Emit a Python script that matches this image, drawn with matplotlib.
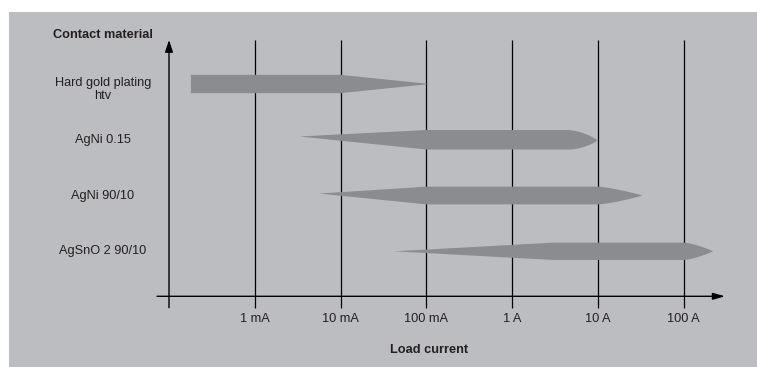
import numpy as np
import matplotlib
matplotlib.use("Agg")
import matplotlib.pyplot as plt
from matplotlib import font_manager
from matplotlib.patches import Rectangle, Polygon
from matplotlib.transforms import blended_transform_factory

# ---------------- data ----------------
materials = ["Hard gold plating\nhtv", "AgNi 0.15", "AgNi 90/10", "AgSnO 2 90/10"]
range_min = [1.8e-4, 3.3e-3, 5.6e-3, 0.042]    # A, left end of usable range
full_from = [1.8e-4, 0.1, 0.1, 3.0]            # A, full recommended range begins
full_to = [0.01, 4.3, 10.0, 100.0]             # A, full recommended range ends
range_max = [0.11, 10.0, 33.0, 220.0]          # A, right end of usable range
tick_values = [1e-3, 1e-2, 1e-1, 1.0, 10.0, 100.0]
tick_labels = ["1 mA", "10 mA", "100 mA", "1 A", "10 A", "100 A"]
axis_origin = 1e-4
x_title = "Load current"
y_title = "Contact material"

# ---------------- style ----------------
W, H = 757, 367
BG = "#bcbdc1"
BAR = "#8b8c90"
TXT = "#231f20"
names = {f.name for f in font_manager.fontManager.ttflist}
if "Liberation Sans Narrow" in names:
    FAM, FS = ["Liberation Sans Narrow", "DejaVu Sans"], 10.5
elif "Liberation Sans" in names:
    FAM, FS = ["Liberation Sans", "DejaVu Sans"], 9.2
else:
    FAM, FS = ["DejaVu Sans"], 8.5
plt.rcParams["font.family"] = FAM

ROW_PX = 55.77                 # pixels per category row
left_tip_dy = [0.0, -3.3 / ROW_PX, -2.0 / ROW_PX, 0.0]
right_tip_dy = [0.0, 0.7 / ROW_PX, 0.0, 0.0]
right_power = [1.0, 2.0, 1.4, 1.5]
half_px = [9.15, 9.75, 8.85, 8.65]

fig = plt.figure(figsize=(W / 100, H / 100), dpi=100)
fig.patch.set_facecolor("white")
fig.add_artist(Rectangle((9 / W, 0), 1 - 9 / W, 1 - 12 / H, transform=fig.transFigure,
                         facecolor=BG, edgecolor="none", zorder=0))

ax = fig.add_axes([0, 0, 1, 1])
ax.set_facecolor("none")
ax.set_xscale("log")
# pixel -> log10(A) mapping: 85.8 px per decade, 469.3 px at log=-0.5
ppd, x0px, lx0 = 85.8, 469.3, -0.5
ax.set_xlim(10 ** (lx0 - x0px / ppd), 10 ** (lx0 + (W - x0px) / ppd))
y0px = 84.0
ax.set_ylim((H - y0px) / ROW_PX, -y0px / ROW_PX)
ax.axis("off")

# grid lines
bx = blended_transform_factory(ax.transData, ax.transAxes)
ax.vlines(tick_values, 1 - 307.7 / H, 1 - 40 / H, transform=bx, color="black", lw=0.9, zorder=1)

# axes with arrows
ax.annotate("", xy=(axis_origin, 1 - 40 / H), xytext=(axis_origin, 1 - 307.7 / H),
            xycoords=bx, textcoords=bx,
            arrowprops=dict(arrowstyle="-|>,head_length=0.6,head_width=0.2", mutation_scale=12,
                            color="black", lw=1.0, shrinkA=0, shrinkB=0), zorder=1)
ax.annotate("", xy=(725 / W, 1 - 296.3 / H), xytext=(157 / W, 1 - 296.3 / H),
            xycoords="axes fraction", textcoords="axes fraction",
            arrowprops=dict(arrowstyle="-|>,head_length=0.6,head_width=0.17", mutation_scale=12,
                            color="black", lw=1.0, shrinkA=0, shrinkB=0), zorder=1)

# bars
for i in range(len(materials)):
    h = half_px[i] / ROW_PX
    c = i
    la, fa, fb, ra = (np.log10(v) for v in (range_min[i], full_from[i], full_to[i], range_max[i]))
    top, bot = [], []
    if fa > la:
        t = np.linspace(0, 1, 30)
        lx = la + (fa - la) * t
        top += list(zip(lx, c + left_tip_dy[i] + (-h - left_tip_dy[i]) * t))
        bot += list(zip(lx, c + left_tip_dy[i] + (h - left_tip_dy[i]) * t))
    else:
        top.append((la, c - h))
        bot.append((la, c + h))
    top.append((fb, c - h))
    bot.append((fb, c + h))
    t = np.linspace(0, 1, 40)[1:]
    rx = fb + (ra - fb) * t
    w = h * (1 - t ** right_power[i])
    dy = right_tip_dy[i] * t
    top += list(zip(rx, c + dy - w))
    bot += list(zip(rx, c + dy + w))
    pts = top + bot[::-1]
    pts = [(10 ** x, y) for x, y in pts]
    ax.add_patch(Polygon(pts, closed=True, facecolor=BAR, edgecolor="none", zorder=2))

# category labels
lt = blended_transform_factory(ax.transAxes, ax.transData)
for i, m in enumerate(materials):
    dy = 5.5 / ROW_PX if "\n" in m else 0.0
    ax.text(103 / W, i + dy, m, transform=lt, ha="center", va="center",
            fontsize=FS, linespacing=1.1, color=TXT)

# tick labels
for v, s in zip(tick_values, tick_labels):
    ax.text(v, 1 - 319 / H, s, transform=bx, ha="center", va="center", fontsize=FS, color=TXT)

ax.text(429 / W, 1 - 350 / H, x_title, transform=ax.transAxes, ha="center", va="center",
        fontsize=FS, fontweight="bold", color=TXT)
ax.text(103 / W, 1 - 35 / H, y_title, transform=ax.transAxes, ha="center", va="center",
        fontsize=FS, fontweight="bold", color=TXT)

fig.savefig("out.png", dpi=100, facecolor="white")
